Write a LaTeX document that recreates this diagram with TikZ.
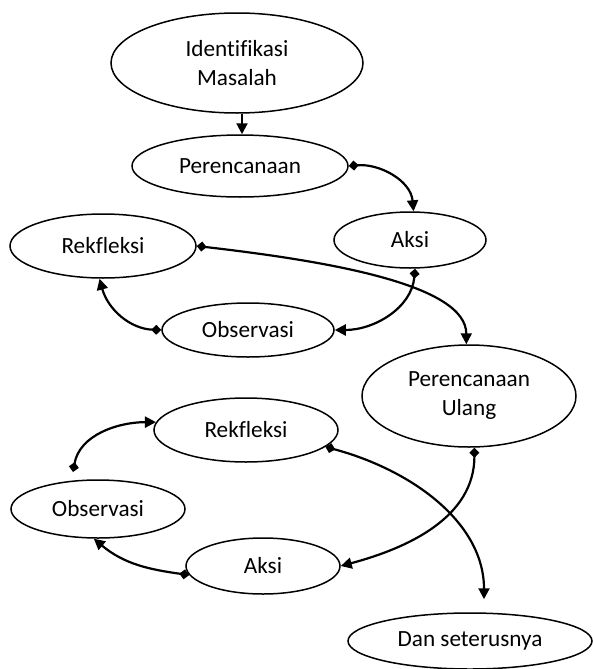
\documentclass[tikz,border=0pt]{standalone}
\usepackage{fontspec}
\setmainfont{Carlito}[Ligatures={NoCommon,NoRare,NoContextual}]
\usetikzlibrary{shapes.geometric,arrows.meta}
\begin{document}
\begin{tikzpicture}[x=0.5pt,y=-0.5pt,
  oval/.style={ellipse,draw,line width=0.75pt,inner sep=0pt,align=center,
    font=\fontsize{11.6pt}{14.5pt}\selectfont},
  conn/.style={line width=1.1pt,{Diamond[length=5pt,width=5pt]}-{Triangle[length=5.5pt,width=5.5pt]}},
  plain/.style={line width=1.1pt,-{Triangle[length=5.5pt,width=5.5pt]}}]
\useasboundingbox (0,0) rectangle (593,669);
\node[oval,minimum width=126pt,minimum height=50pt] (idm) at (237,63) {Identifikasi\\Masalah};
\node[oval,minimum width=108pt,minimum height=31pt] (per) at (240,166) {Perencanaan};
\node[oval,minimum width=76pt,minimum height=28pt] (ak1) at (410,240) {Aksi};
\node[oval,minimum width=93pt,minimum height=32pt] (rk1) at (103,246) {Rekfleksi};
\node[oval,minimum width=86pt,minimum height=27pt] (ob1) at (248,330) {Observasi};
\node[oval,minimum width=107pt,minimum height=51pt] (pu) at (469,396) {Perencanaan\\Ulang};
\node[oval,minimum width=92pt,minimum height=32pt] (rk2) at (246,430) {Rekfleksi};
\node[oval,minimum width=87pt,minimum height=29pt] (ob2) at (98,509) {Observasi};
\node[oval,minimum width=77pt,minimum height=28pt] (ak2) at (263,566) {Aksi};
\node[oval,minimum width=122pt,minimum height=28pt] (dan) at (470,641) {Dan seterusnya};
\coordinate (o2s) at (73,472);

\draw[plain] (idm.south -| 242,0) -- (per.north -| 242,0);
\draw[conn] (per.east) to[out=5,in=95] (ak1.83);
\draw[conn] (ak1.-80) to[out=-95,in=0] (ob1.east);
\draw[conn] (ob1.west) to[out=178,in=-75] (rk1.-96);
\draw[conn] (rk1.east) .. controls +(130,15) and +(0,-60) .. (pu.93);
\draw[conn] (pu.-84) to[out=-90,in=15] (ak2.east);
\draw[conn,shorten >=6.5pt] (rk2.-12) to[out=-15,in=90] (dan.north -| 484,0);
\draw[conn] (ak2.187) to[out=172,in=-40] (ob2.-98);
\draw[conn] (o2s) to[out=80,in=180] (rk2.175);
\end{tikzpicture}
\end{document}
